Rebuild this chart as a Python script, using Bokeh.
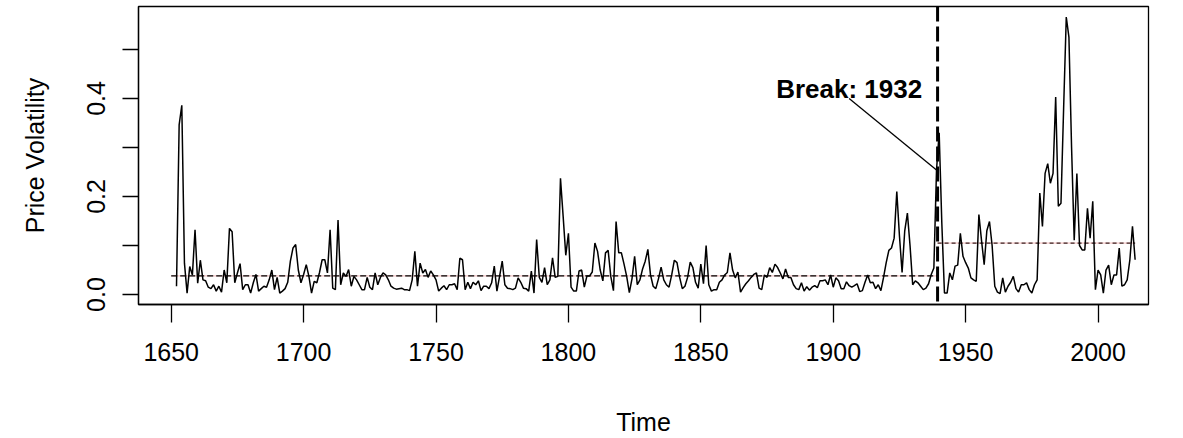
from bokeh.plotting import figure
from bokeh.models import FixedTicker, PrintfTickFormatter, Span, Range1d
from bokeh.core.properties import value
from bokeh.embed import file_html
from bokeh.resources import INLINE

# ---- data (one value per year on the time axis) ----
first_year = 1652
last_year = 2014

vol_a = [0.017, 0.346, 0.386, 0.064, 0.003, 0.057, 0.04, 0.132, 0.023, 0.07,
         0.03, 0.028, 0.015, 0.012, 0.02, 0.007, 0.017, 0.005, 0.05, 0.024,
         0.135, 0.128, 0.024, 0.044, 0.063, 0.01, 0.02, 0.02, 0.003, 0.024, 0.041,
         0.007, 0.012, 0.017, 0.015, 0.03, 0.05, 0.01, 0.035, 0.003, 0.007,
         0.012, 0.025, 0.068, 0.095, 0.102, 0.05, 0.024, 0.041, 0.061, 0.037]
vol_b = [0.003, 0.027, 0.024, 0.045, 0.071, 0.071, 0.044, 0.132, 0.013, 0.01,
         0.152, 0.02, 0.044, 0.037, 0.051, 0.017, 0.037, 0.03, 0.02, 0.01, 0.01,
         0.035, 0.015, 0.01, 0.044, 0.02, 0.035, 0.044, 0.04, 0.03, 0.017,
         0.013, 0.011, 0.012, 0.013, 0.01, 0.01, 0.008, 0.03, 0.088, 0.017,
         0.064, 0.044, 0.051, 0.035, 0.048, 0.04, 0.03, 0.007, 0.013, 0.018]
vol_c = [0.01, 0.02, 0.02, 0.022, 0.01, 0.074, 0.071, 0.01, 0.025, 0.012,
         0.025, 0.02, 0.028, 0.008, 0.017, 0.017, 0.012, 0.024, 0.058, 0.007, 0.037,
         0.068, 0.02, 0.013, 0.012, 0.01, 0.013, 0.034, 0.025, 0.013, 0.012,
         0.007, 0.048, 0.003, 0.112, 0.035, 0.025, 0.055, 0.02, 0.03, 0.075,
         0.035, 0.037, 0.237, 0.16, 0.08, 0.125, 0.015, 0.007, 0.007, 0.048, 0.05]
vol_d = [0.015, 0.038, 0.038, 0.046, 0.105, 0.088, 0.05, 0.028, 0.085, 0.09,
         0.037, 0.008, 0.149, 0.085, 0.085, 0.062, 0.037, 0.004, 0.032, 0.078,
         0.02, 0.03, 0.052, 0.068, 0.092, 0.04, 0.017, 0.012, 0.032, 0.056,
         0.03, 0.02, 0.015, 0.04, 0.07, 0.065, 0.035, 0.012, 0.017, 0.035,
         0.066, 0.055, 0.025, 0.013, 0.062, 0.022, 0.1, 0.02, 0.007, 0.01, 0.01]
vol_e = [0.025, 0.03, 0.04, 0.045, 0.085, 0.05, 0.034, 0.046, 0.005, 0.014,
         0.022, 0.028, 0.035, 0.041, 0.044, 0.013, 0.01, 0.04, 0.035, 0.055,
         0.045, 0.062, 0.055, 0.044, 0.032, 0.052, 0.035, 0.035, 0.02, 0.012,
         0.01, 0.024, 0.007, 0.016, 0.009, 0.015, 0.018, 0.014, 0.028, 0.028,
         0.03, 0.02, 0.04, 0.015, 0.034, 0.028, 0.012, 0.012, 0.026, 0.018, 0.015]
vol_f = [0.018, 0.022, 0.006, 0.008, 0.025, 0.04, 0.024, 0.025, 0.012, 0.02,
         0.008, 0.035, 0.065, 0.09, 0.095, 0.115, 0.21, 0.12, 0.045, 0.13,
         0.166, 0.1, 0.02, 0.028, 0.024, 0.017, 0.01, 0.013, 0.022, 0.041,
         0.054, 0.254, 0.33, 0.146, 0.003, 0.003, 0.044, 0.03, 0.058, 0.06, 0.125,
         0.078, 0.065, 0.054, 0.034, 0.03, 0.027, 0.163, 0.11, 0.061, 0.13]
vol_g = [0.149, 0.1, 0.017, 0.005, 0.002, 0.034, 0.005, 0.017, 0.025, 0.037,
         0.012, 0.005, 0.02, 0.02, 0.024, 0.01, 0.003, 0.02, 0.03, 0.207,
         0.139, 0.247, 0.267, 0.227, 0.247, 0.403, 0.18, 0.186, 0.38, 0.566,
         0.525, 0.3, 0.111, 0.247, 0.1, 0.091, 0.091, 0.176, 0.115, 0.19, 0.01,
         0.05, 0.04, 0.003, 0.05, 0.06, 0.02, 0.04, 0.04, 0.095, 0.017,
         0.02, 0.03, 0.07, 0.139, 0.071]

volatility = vol_a + vol_b + vol_c + vol_d + vol_e + vol_f + vol_g
years = list(range(first_year, last_year + 1))
assert len(years) == len(volatility), (len(years), len(volatility))

break_label = "Break: 1932"
break_pos = 1939.4          # where the break line sits on the time axis
break_point_year = 1939     # data point the pointer goes to
mean_before = 0.038
mean_after = 0.105
mean_before_start = 1650
label_x = 1906
label_y = 0.42
pointer_y = 0.40
break_value = volatility[years.index(break_point_year)]

x_ticks = [1650, 1700, 1750, 1800, 1850, 1900, 1950, 2000]
y_ticks = [0.0, 0.2, 0.4]
y_minor = [0.1, 0.3, 0.5]

FONT = "Liberation Sans"

p = figure(width=1183, height=438, output_backend="svg", toolbar_location=None,
           x_range=Range1d(1637.65, 2019.05), y_range=Range1d(-0.0203, 0.5874),
           min_border_left=138, min_border_right=35, min_border_top=6,
           min_border_bottom=133)
p.grid.visible = False
p.outline_line_color = "black"
p.outline_line_width = 1.3
p.background_fill_color = "white"
p.border_fill_color = "white"

# x axis
xa = p.xaxis[0]
xa.ticker = FixedTicker(ticks=x_ticks)
xa.major_tick_out = 18
xa.major_tick_in = 0
xa.major_tick_line_width = 1.3
xa.axis_line_width = 1.3
xa.major_label_standoff = 20
xa.major_label_text_font = FONT
xa.major_label_text_font_size = "25px"
xa.major_label_text_color = "black"
xa.axis_label = "Time"
xa.axis_label_text_font = FONT
xa.axis_label_text_font_size = "25px"
xa.axis_label_text_font_style = "normal"
xa.axis_label_text_color = "black"
xa.axis_label_standoff = 44

# y axis
ya = p.yaxis[0]
ya.ticker = FixedTicker(ticks=y_ticks, minor_ticks=y_minor)
ya.formatter = PrintfTickFormatter(format="%.1f")
ya.major_tick_out = 16
ya.major_tick_in = 0
ya.minor_tick_out = 16
ya.minor_tick_in = 0
ya.minor_tick_line_color = "black"
ya.minor_tick_line_width = 1.3
ya.major_tick_line_width = 1.3
ya.axis_line_width = 1.3
ya.major_label_orientation = "vertical"
ya.major_label_standoff = 17
ya.major_label_text_font = FONT
ya.major_label_text_font_size = "25px"
ya.major_label_text_color = "black"
ya.axis_label = "Price Volatility"
ya.axis_label_text_font = FONT
ya.axis_label_text_font_size = "25px"
ya.axis_label_text_font_style = "normal"
ya.axis_label_text_color = "black"
ya.axis_label_standoff = 36

# mean levels
p.line([mean_before_start, break_pos], [mean_before, mean_before],
       line_color="#f2b8b8", line_width=1)
p.line([mean_before_start, break_pos], [mean_before, mean_before],
       line_color="black", line_width=1.2, line_dash="6 3")
p.line([break_pos, last_year], [mean_after, mean_after],
       line_color="#f2b8b8", line_width=1)
p.line([break_pos, last_year], [mean_after, mean_after],
       line_color="#3a2020", line_width=1.3, line_dash="4 3")

# series
p.line(years, volatility, line_color="black", line_width=1.5)

# break line
p.add_layout(Span(location=break_pos, dimension="height", line_color="black",
                  line_width=3, line_dash="15 5"))

# annotation
p.segment(x0=[label_x], y0=[pointer_y], x1=[break_point_year], y1=[break_value],
          line_color="black", line_width=1.3)
p.text(x=[label_x], y=[label_y], text=[break_label],
       text_align="center", text_baseline="middle",
       text_font=value(FONT), text_font_style="bold", text_font_size="26px",
       text_color="black")

open("out.html", "w").write(file_html(p, INLINE))
